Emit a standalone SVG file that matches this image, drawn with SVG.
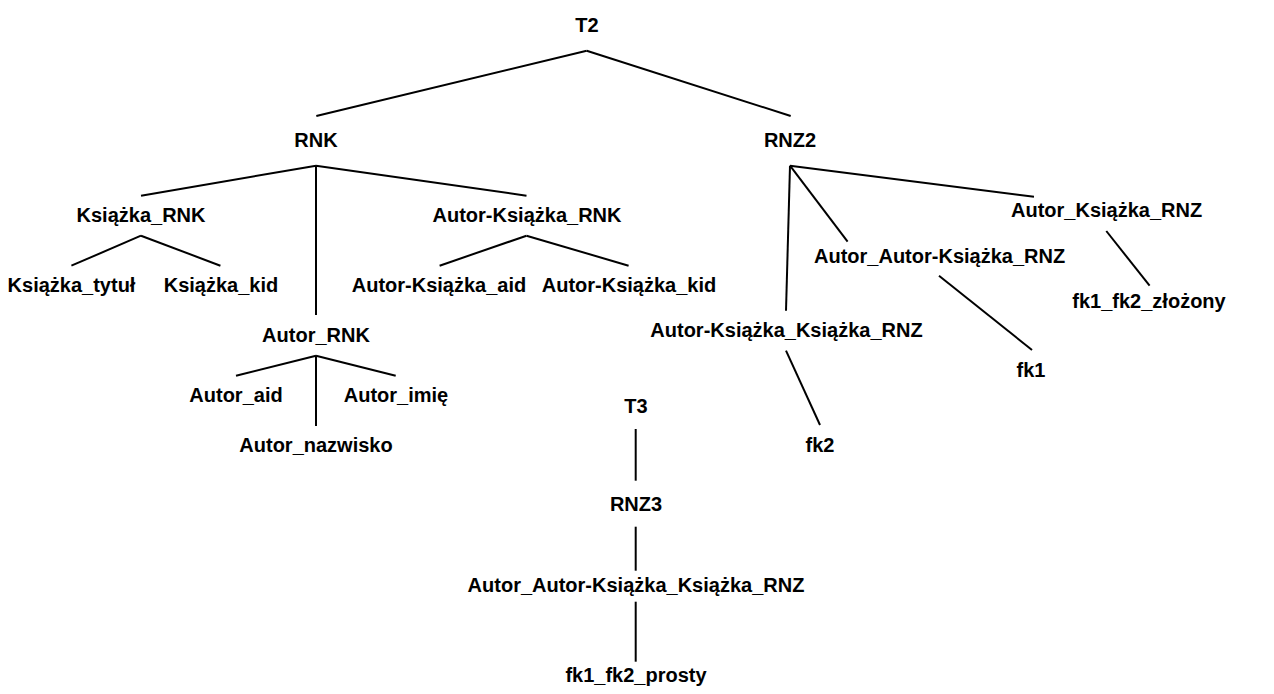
<svg xmlns="http://www.w3.org/2000/svg" width="1274" height="694" viewBox="0 0 1274 694">
<style>
text{font-family:"Liberation Sans",Arial,Helvetica,sans-serif;font-weight:bold;font-size:20px;fill:#000;text-anchor:middle}
.c line{stroke:#000;stroke-width:2;fill:none}
</style>
<rect width="1274" height="694" fill="#fff"/>
<g class="c" id="connectors">
<line x1="586.7" y1="50.7" x2="316.3" y2="116"/>
<line x1="586.7" y1="50.7" x2="790.7" y2="116"/>
<line x1="316" y1="165.7" x2="141" y2="195.7"/>
<line x1="316" y1="165.7" x2="526.5" y2="195.7"/>
<line x1="316" y1="165.7" x2="316" y2="315"/>
<line x1="141" y1="235.7" x2="71.4" y2="265.7"/>
<line x1="141" y1="235.7" x2="220.4" y2="265.7"/>
<line x1="526.5" y1="235.7" x2="439.6" y2="265.7"/>
<line x1="526.5" y1="235.7" x2="628.6" y2="265.7"/>
<line x1="316" y1="355.7" x2="236" y2="375.7"/>
<line x1="316" y1="355.7" x2="395.7" y2="375.7"/>
<line x1="316" y1="355.7" x2="316" y2="426"/>
<line x1="790" y1="165.7" x2="786" y2="310.7"/>
<line x1="790" y1="165.7" x2="847.6" y2="241.7"/>
<line x1="790" y1="165.7" x2="1034" y2="196.7"/>
<line x1="1106.3" y1="231" x2="1149.6" y2="285.7"/>
<line x1="939" y1="275.7" x2="1032" y2="350"/>
<line x1="786" y1="350.7" x2="820" y2="425"/>
<line x1="635.7" y1="429" x2="635.7" y2="480.7"/>
<line x1="635.7" y1="526.7" x2="635.7" y2="570.7"/>
<line x1="635.7" y1="601.7" x2="635.7" y2="661.7"/>
</g>
<g id="n-T2"><text x="587" y="31.7">T2</text></g>
<g id="n-RNK"><text x="316" y="147">RNK</text></g>
<g id="n-RNZ2"><text x="790" y="147">RNZ2</text></g>
<g id="n-Ksiazka_RNK"><text x="141" y="222">Książka_RNK</text></g>
<g id="n-Autor-Ksiazka_RNK"><text x="527" y="222">Autor-Książka_RNK</text></g>
<g id="n-Ksiazka_tytul"><text x="71.5" y="292">Książka_tytuł</text></g>
<g id="n-Ksiazka_kid"><text x="221" y="292">Książka_kid</text></g>
<g id="n-Autor-Ksiazka_aid"><text x="439" y="292">Autor-Książka_aid</text></g>
<g id="n-Autor-Ksiazka_kid"><text x="629" y="292">Autor-Książka_kid</text></g>
<g id="n-Autor_RNK"><text x="316" y="342">Autor_RNK</text></g>
<g id="n-Autor_aid"><text x="236" y="401.5">Autor_aid</text></g>
<g id="n-Autor_imie"><text x="396" y="401.5">Autor_imię</text></g>
<g id="n-Autor_nazwisko"><text x="316" y="452">Autor_nazwisko</text></g>
<g id="n-Autor_Ksiazka_RNZ"><text x="1106.6" y="217">Autor_Książka_RNZ</text></g>
<g id="n-Autor_Autor-Ksiazka_RNZ"><text x="939.6" y="263">Autor_Autor-Książka_RNZ</text></g>
<g id="n-fk1_fk2_zlozony"><text x="1149" y="307.5">fk1_fk2_złożony</text></g>
<g id="n-Autor-Ksiazka_Ksiazka_RNZ"><text x="786.5" y="337">Autor-Książka_Książka_RNZ</text></g>
<g id="n-fk1"><text x="1031" y="377">fk1</text></g>
<g id="n-fk2"><text x="820" y="452">fk2</text></g>
<g id="n-T3"><text x="636" y="413">T3</text></g>
<g id="n-RNZ3"><text x="636" y="511">RNZ3</text></g>
<g id="n-Autor_Autor-Ksiazka_Ksiazka_RNZ"><text x="636" y="592">Autor_Autor-Książka_Książka_RNZ</text></g>
<g id="n-fk1_fk2_prosty"><text x="636" y="682">fk1_fk2_prosty</text></g>
</svg>
